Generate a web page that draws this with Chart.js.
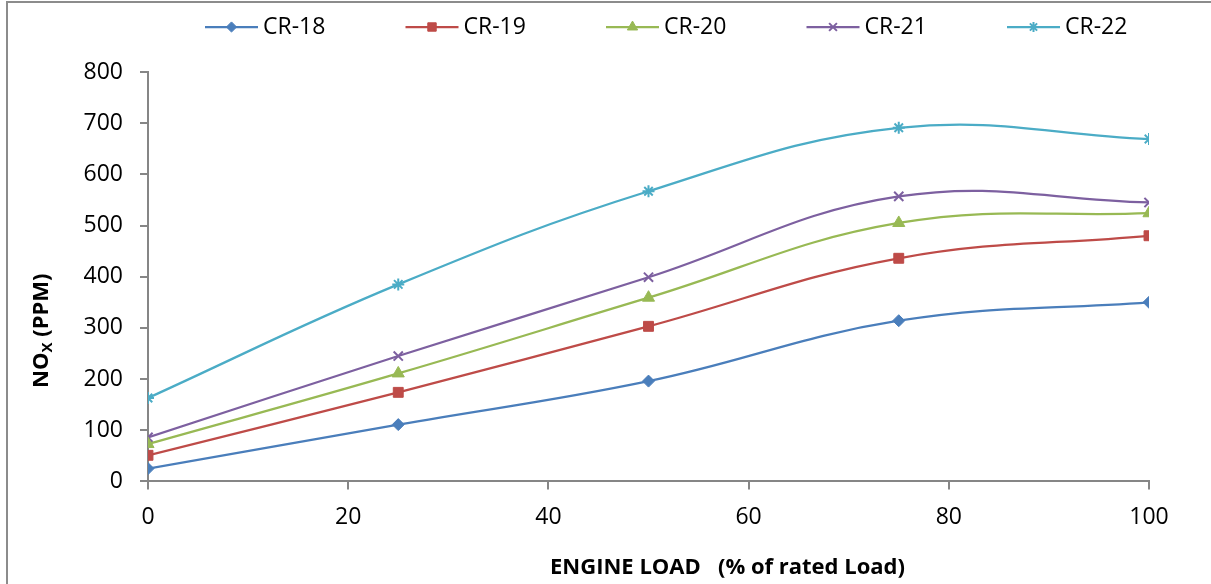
<!DOCTYPE html>
<html>
<head>
<meta charset="utf-8">
<script src="https://cdn.jsdelivr.net/npm/chart.js@4.4.1/dist/chart.umd.min.js"></script>
<style>
    html, body { margin: 0; padding: 0; overflow: hidden; background: #fff; }
    #frame {
        position: absolute; left: 6px; top: 1px; width: 1300px; height: 700px;
        border-left: 2px solid #8c8c8c; border-top: 2px solid #8c8c8c;
    }
    #noxChart { position: absolute; left: 0; top: 0; }
</style>
</head>
<body>
<div id="frame"></div>
<canvas id="noxChart" width="1211" height="584"></canvas>
<script>
// engine load (% of rated load) and NOx readings (ppm) per compression ratio
const loads = [0, 25, 50, 75, 100];
const cr18 = [25, 111, 196, 314, 350];
const cr19 = [51, 174, 303, 436, 480];
const cr20 = [73, 211, 359, 505, 524];
const cr21 = [86, 245, 399, 557, 545];
const cr22 = [163, 385, 567, 691, 669];

const seriesNames = ['CR-18', 'CR-19', 'CR-20', 'CR-21', 'CR-22'];
const seriesValues = [cr18, cr19, cr20, cr21, cr22];
const colors = ['#4a7ebb', '#be4b48', '#98b954', '#7d60a0', '#4bacc6'];
const markers = ['rectRot', 'rect', 'triangle', 'crossRot', 'star'];
const markerSizes = [6, 7, 7, 6.5, 6];

const xTicks = [0, 20, 40, 60, 80, 100];
const yTicks = [0, 100, 200, 300, 400, 500, 600, 700, 800];

const xTitle = 'ENGINE LOAD   (% of rated Load)';
const FONT = '"Open Sans", "DejaVu Sans", sans-serif';
const TICK_SIZE = 23;

Chart.defaults.color = '#000';
Chart.defaults.font.family = FONT;

const isLineMarker = i => markers[i] === 'crossRot' || markers[i] === 'star';

const datasets = seriesNames.map((name, i) => ({
    label: name,
    data: loads.map((x, j) => ({x: x, y: seriesValues[i][j]})),
    borderColor: colors[i],
    backgroundColor: colors[i],
    borderWidth: 2.25,
    tension: 0.4,
    pointStyle: markers[i],
    pointRadius: markerSizes[i],
    pointBorderWidth: isLineMarker(i) ? 2 : 1,
    pointHoverRadius: markerSizes[i]
}));

// one-row legend across the top: line sample with marker, then the label
const legendRow = {
    id: 'legendRow',
    afterDraw(chart) {
        const ctx = chart.ctx;
        const y = 27, first = 205, pitch = 200.5, len = 53;
        ctx.save();
        ctx.font = TICK_SIZE + 'px ' + FONT;
        ctx.textBaseline = 'middle';
        ctx.textAlign = 'left';
        chart.data.datasets.forEach((ds, i) => {
            const x = first + i * pitch;
            ctx.strokeStyle = ds.borderColor;
            ctx.fillStyle = ds.borderColor;
            ctx.lineWidth = 2.25;
            ctx.beginPath();
            ctx.moveTo(x, y);
            ctx.lineTo(x + len, y);
            ctx.stroke();
            ctx.lineWidth = isLineMarker(i) ? 2 : 1;
            Chart.helpers.drawPoint(ctx, {
                pointStyle: ds.pointStyle,
                radius: ds.pointRadius * 0.85,
                borderWidth: ctx.lineWidth,
                rotation: 0
            }, x + len / 2, y);
            ctx.fillStyle = '#000';
            ctx.fillText(ds.label, x + len + 5, y);
        });
        ctx.restore();
    }
};

// axis titles, the y one carries a subscript
const axisTitles = {
    id: 'axisTitles',
    afterDraw(chart) {
        const {ctx, chartArea} = chart;
        ctx.save();
        ctx.fillStyle = '#000';
        ctx.textBaseline = 'middle';
        ctx.textAlign = 'center';
        ctx.font = 'bold 22px ' + FONT;
        ctx.fillText(xTitle, (chartArea.left + chartArea.right) / 2 + 79, 568);

        ctx.translate(42, (chartArea.top + chartArea.bottom) / 2 + 54);
        ctx.rotate(-Math.PI / 2);
        ctx.textAlign = 'left';
        const big = 'bold 22px ' + FONT, small = 'bold 15px ' + FONT;
        ctx.font = big;
        const w1 = ctx.measureText('NO').width;
        const w3 = ctx.measureText(' (PPM)').width;
        ctx.font = small;
        const w2 = ctx.measureText('X').width;
        let x = -(w1 + w2 + w3) / 2;
        ctx.font = big;
        ctx.fillText('NO', x, 0);
        x += w1;
        ctx.font = small;
        ctx.fillText('X', x, 6);
        x += w2;
        ctx.font = big;
        ctx.fillText(' (PPM)', x, 0);
        ctx.restore();
    }
};

const axisStyle = {
    drawOnChartArea: false,
    drawTicks: true,
    tickLength: 8,
    color: '#868686',
    lineWidth: 2
};

new Chart(document.getElementById('noxChart'), {
    type: 'line',
    data: {datasets: datasets},
    options: {
        responsive: false,
        animation: false,
        layout: {padding: {left: 78, right: 62, top: 72, bottom: 39}},
        plugins: {
            legend: {display: false},
            tooltip: {enabled: false}
        },
        scales: {
            x: {
                type: 'linear',
                min: 0,
                max: 100,
                afterBuildTicks: axis => { axis.ticks = xTicks.map(v => ({value: v})); },
                ticks: {padding: 14, font: {size: TICK_SIZE}, maxRotation: 0},
                grid: axisStyle,
                border: {color: '#868686', width: 2}
            },
            y: {
                min: 0,
                max: 800,
                afterBuildTicks: axis => { axis.ticks = yTicks.map(v => ({value: v})); },
                // fixed axis width keeps the plot's left edge at x = 148
                afterFit: axis => { axis.width = 70; },
                ticks: {padding: 17, font: {size: TICK_SIZE}, autoSkip: false},
                grid: axisStyle,
                border: {color: '#868686', width: 2}
            }
        }
    },
    plugins: [legendRow, axisTitles]
});
</script>
</body>
</html>
